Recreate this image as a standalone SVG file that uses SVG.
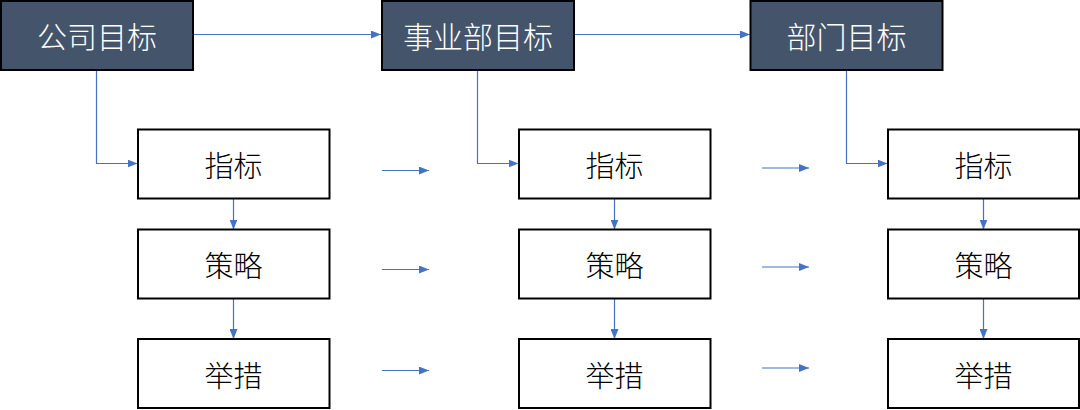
<svg xmlns="http://www.w3.org/2000/svg" width="1080" height="410" viewBox="0 0 1080 410">
<style>
.top{fill:#44546A;stroke:#000;stroke-width:2}
.box{fill:#fff;stroke:#000;stroke-width:2}
.tt{font-family:"Noto Sans CJK SC",sans-serif;font-size:30px;font-weight:300;fill:#fff;text-anchor:middle;dominant-baseline:central}
.bt{font-family:"Noto Sans CJK SC",sans-serif;font-size:29px;font-weight:300;fill:#000;text-anchor:middle;dominant-baseline:central}
.c{fill:none;stroke:#4472C4;stroke-width:1.2;marker-end:url(#ah)}
</style>
<defs>
<marker id="ah" markerWidth="10" markerHeight="8" refX="10" refY="4" orient="auto" markerUnits="userSpaceOnUse">
<path d="M0,0 L10,4 L0,8 Z" fill="#4472C4"/>
</marker>
</defs>
<g id="connectors">
<path class="c" d="M193,34.5 H381"/>
<path class="c" d="M574,34.5 H750"/>
<path class="c" d="M96.5,70 V163.5 H137.5"/>
<path class="c" d="M477.5,70 V163.5 H518.5"/>
<path class="c" d="M846.5,70 V163.5 H887.5"/>
<path class="c" d="M233.5,198.5 V229.5"/>
<path class="c" d="M233.5,298.5 V339"/>
<path class="c" d="M614.5,198.5 V229.5"/>
<path class="c" d="M614.5,298.5 V339"/>
<path class="c" d="M983.5,198.5 V229.5"/>
<path class="c" d="M983.5,298.5 V339"/>
<path class="c" d="M382,170.5 H429"/>
<path class="c" d="M382,269.5 H429"/>
<path class="c" d="M382,370.5 H429"/>
<path class="c" d="M762,168 H809"/>
<path class="c" d="M762,267 H809"/>
<path class="c" d="M762,368 H809"/>
</g>
<g id="n-company"><rect class="top" x="1" y="1" width="192" height="69"/><text class="tt" x="97" y="35">公司目标</text></g>
<g id="n-division"><rect class="top" x="382" y="1" width="192" height="69"/><text class="tt" x="478" y="35">事业部目标</text></g>
<g id="n-dept"><rect class="top" x="750.5" y="1" width="192" height="69"/><text class="tt" x="846.5" y="35">部门目标</text></g>
<g id="n-c1-ind"><rect class="box" x="138" y="129.5" width="191.5" height="69"/><text class="bt" x="233.5" y="164">指标</text></g>
<g id="n-c1-str"><rect class="box" x="138" y="229.5" width="191.5" height="69"/><text class="bt" x="233.5" y="264">策略</text></g>
<g id="n-c1-act"><rect class="box" x="138" y="339" width="191.5" height="69"/><text class="bt" x="233.5" y="373.5">举措</text></g>
<g id="n-c2-ind"><rect class="box" x="519" y="129.5" width="191.5" height="69"/><text class="bt" x="614.5" y="164">指标</text></g>
<g id="n-c2-str"><rect class="box" x="519" y="229.5" width="191.5" height="69"/><text class="bt" x="614.5" y="264">策略</text></g>
<g id="n-c2-act"><rect class="box" x="519" y="339" width="191.5" height="69"/><text class="bt" x="614.5" y="373.5">举措</text></g>
<g id="n-c3-ind"><rect class="box" x="888" y="129.5" width="191" height="69"/><text class="bt" x="983.5" y="164">指标</text></g>
<g id="n-c3-str"><rect class="box" x="888" y="229.5" width="191" height="69"/><text class="bt" x="983.5" y="264">策略</text></g>
<g id="n-c3-act"><rect class="box" x="888" y="339" width="191" height="69"/><text class="bt" x="983.5" y="373.5">举措</text></g>
</svg>
